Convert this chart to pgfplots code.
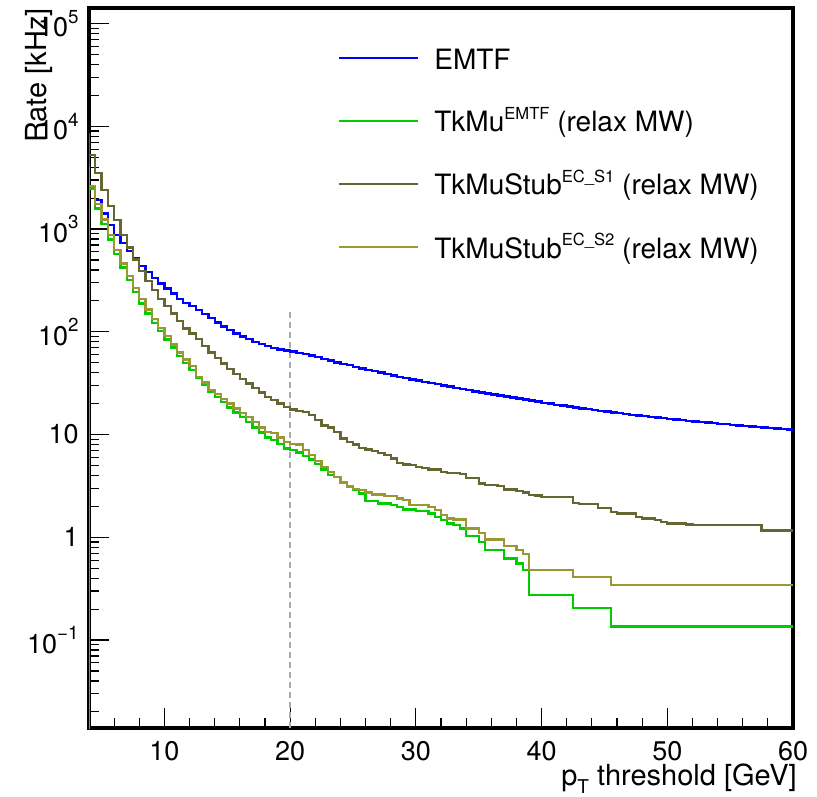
\documentclass[border=0pt]{standalone}
\usepackage{fontspec}
\setmainfont{TeX Gyre Heros}
\usepackage{pgfplots}
\usepackage{pgfplotstable}
\pgfplotsset{compat=1.18}
\definecolor{cblue}{RGB}{0,0,255}
\definecolor{cgreen}{RGB}{0,204,0}
\definecolor{colive}{RGB}{102,102,51}
\definecolor{colivetwo}{RGB}{153,153,51}
\definecolor{cdash}{RGB}{170,170,170}
\newcommand{\ysup}[1]{\raisebox{6.8pt}{\fontsize{9.4pt}{10pt}\selectfont #1}}
\newcommand{\lsup}[1]{\raisebox{6.2pt}{\fontsize{8.3pt}{9pt}\selectfont #1}}

\pgfplotstableread{
x emtf tkmu sa sb
4 0.01 0.01 0.01 0.01
4 2490 2490 8550 4130
4.0 2490 2490 5250 2620
4.5 1916 1590 3530 1750
5.0 1422 1120 2400 1242
5.5 1094 795 1680 875
6.0 874 571 1225 625
6.5 735 424 875 464
7.0 615 318 664 349
7.5 518 245 507 268
8.0 439 189 393 208
8.5 384 151 314 165
9.0 336 122 255 134
9.5 296 102 208 109
10.0 265 84.4 179 90.8
10.5 237 70.5 151 75.3
11.0 208 58.0 128 63.0
11.5 190 49.5 108 53.8
12.0 178 42.4 96.4 46.7
12.5 163 35.6 84.9 36.5
13.0 149 30.8 72.6 32.2
13.5 136 26.1 63.0 27.0
14.0 123 23.3 55.8 24.7
14.5 112.4 20.8 49.2 22.1
15.0 103.9 18.4 43.3 20.1
15.5 96.5 16.4 38.7 17.9
16.0 90.2 14.9 34.6 16.3
16.5 84.9 13.3 31.4 14.9
17.0 79.9 11.7 28.5 13.3
17.5 75.9 10.5 25.7 11.7
18.0 72.6 9.37 23.3 10.6
18.5 69.7 8.82 21.6 10.3
19.0 67.4 8.07 20.1 9.37
19.5 65.6 7.33 18.6 8.49
20.0 64.2 7.05 17.5 8.07
20.5 62.4 6.70 17.0 7.98
21.0 60.7 6.17 16.5 7.05
21.5 58.6 5.73 15.5 6.30
22.0 56.7 5.15 13.8 5.51
22.5 54.5 4.57 12.2 4.85
23.0 52.4 4.03 11.7 4.34
23.5 50.5 3.88 10.6 3.88
24.0 48.8 3.46 9.16 3.42
24.5 47.4 3.15 8.49 3.11
25.0 45.6 2.88 8.01 2.97
25.5 44.1 2.67 7.42 2.88
26.0 42.7 2.26 7.16 2.73
26.5 41.4 2.26 6.89 2.61
27.0 40.1 2.13 6.64 2.61
27.5 38.7 2.13 6.30 2.51
28.0 37.5 2.06 5.85 2.51
28.5 36.4 1.98 5.30 2.39
29.0 35.4 1.87 5.11 2.30
29.5 34.5 1.87 5.03 2.05
30.0 33.6 1.81 4.85 2.05
30.5 32.7 1.80 4.74 2.05
31.0 31.9 1.71 4.57 1.98
31.5 31.0 1.58 4.57 1.84
32.0 30.1 1.47 4.34 1.64
32.5 29.3 1.36 4.24 1.52
33.0 28.5 1.31 4.24 1.49
33.5 27.8 1.22 4.12 1.49
34.0 27.1 1.03 3.79 1.22
34.5 26.3 1.03 3.79 1.22
35.0 25.7 0.902 3.34 1.10
35.5 25.0 0.748 3.22 0.953
36.0 24.5 0.748 3.22 0.953
36.5 23.9 0.748 3.15 0.953
37.0 23.4 0.622 2.92 0.819
37.5 22.9 0.622 2.92 0.819
38.0 22.4 0.556 2.81 0.748
38.5 21.9 0.478 2.72 0.684
39.0 21.4 0.273 2.57 0.478
39.5 20.9 0.273 2.55 0.478
40.0 20.4 0.273 2.47 0.478
40.5 20.0 0.273 2.47 0.478
41.0 19.5 0.273 2.47 0.478
41.5 19.1 0.273 2.47 0.478
42.0 18.7 0.273 2.47 0.478
42.5 18.4 0.2055 2.16 0.411
43.0 18.0 0.2055 2.10 0.411
43.5 17.7 0.2055 2.10 0.411
44.0 17.4 0.2055 2.10 0.411
44.5 17.0 0.2055 1.93 0.411
45.0 16.7 0.2055 1.93 0.411
45.5 16.4 0.136 1.77 0.342
46.0 16.2 0.136 1.71 0.342
46.5 15.9 0.136 1.71 0.342
47.0 15.6 0.136 1.71 0.342
47.5 15.4 0.136 1.58 0.342
48.0 15.1 0.136 1.52 0.342
48.5 14.9 0.136 1.52 0.342
49.0 14.6 0.136 1.47 0.342
49.5 14.4 0.136 1.41 0.342
50.0 14.2 0.136 1.36 0.342
50.5 14.0 0.136 1.36 0.342
51.0 13.8 0.136 1.36 0.342
51.5 13.6 0.136 1.33 0.342
52.0 13.4 0.136 1.31 0.342
52.5 13.3 0.136 1.31 0.342
53.0 13.1 0.136 1.31 0.342
53.5 12.9 0.136 1.31 0.342
54.0 12.7 0.136 1.31 0.342
54.5 12.6 0.136 1.31 0.342
55.0 12.4 0.136 1.31 0.342
55.5 12.3 0.136 1.31 0.342
56.0 12.1 0.136 1.31 0.342
56.5 12.0 0.136 1.31 0.342
57.0 11.9 0.136 1.31 0.342
57.5 11.7 0.136 1.17 0.342
58.0 11.6 0.136 1.17 0.342
58.5 11.5 0.136 1.17 0.342
59.0 11.3 0.136 1.17 0.342
59.5 11.2 0.136 1.17 0.342
60 11.2 0.136 1.17 0.342
}\rates

\begin{document}
\begin{tikzpicture}
\path (-44.5pt,-34pt) rectangle (364pt,364pt);
\begin{axis}[
  set layers,
  at={(0,0)}, anchor=south west,
  scale only axis, width=352pt, height=360pt,
  ymode=log, xmin=4, xmax=60, ymin=0.01393, ymax=141900,
  axis line style={line width=1.9pt},
  tick pos=left, tick align=inside,
  major tick length=10pt, minor tick length=4.8pt,
  every tick/.style={black, line width=0.6pt},
  xtick={10,20,30,40,50,60}, xticklabels={10,20,30,40,50,60},
  minor xtick={6,8,12,14,16,18,22,24,26,28,32,34,36,38,42,44,46,48,52,54,56,58},
  ytick={0.1,1,10,100,1000,10000,100000},
  yticklabels={10\ysup{−1},1,10,10\ysup{2},10\ysup{3},10\ysup{4},10\ysup{5}},
  minor ytick={0.02,0.03,0.04,0.05,0.06,0.07,0.08,0.09,0.2,0.3,0.4,0.5,0.6,0.7,0.8,0.9,2,3,4,5,6,7,8,9,20,30,40,50,60,70,80,90,200,300,400,500,600,700,800,900,2000,3000,4000,5000,6000,7000,8000,9000,20000,30000,40000,50000,60000,70000,80000,90000},
  tick label style={font=\fontsize{13.5pt}{16pt}\selectfont, inner sep=0pt},
  yticklabel style={xshift=-5pt},
  xticklabel style={yshift=-6.3pt},
  xlabel={p\raisebox{-0.25em}{\fontsize{9.5pt}{10pt}\selectfont T} threshold [GeV]},
  ylabel={Rate [kHz]},
  label style={font=\fontsize{14.5pt}{17pt}\selectfont, inner sep=0pt},
  xlabel style={at={(axis description cs:1.0057,-0.0805)}, anchor=base east},
  ylabel style={at={(axis description cs:-0.0597,1)}, anchor=base east},
]
\addplot[cdash, line width=0.8pt, dash pattern=on 3pt off 2pt] coordinates {(20,0.01393) (20,163)};
\addplot[const plot mark left, cblue, line width=1.2pt] table[x=x, y=emtf] {\rates};
\addplot[const plot mark left, cgreen, line width=1.2pt] table[x=x, y=tkmu] {\rates};
\addplot[const plot mark left, colive, line width=1.2pt] table[x=x, y=sa] {\rates};
\addplot[const plot mark left, colivetwo, line width=1.2pt] table[x=x, y=sb] {\rates};

\draw[cblue, line width=1.1pt] (axis description cs:0.355,0.930) -- (axis description cs:0.467,0.930);
\draw[cgreen, line width=1.1pt] (axis description cs:0.355,0.8435) -- (axis description cs:0.467,0.8435);
\draw[colive, line width=1.1pt] (axis description cs:0.355,0.7556) -- (axis description cs:0.467,0.7556);
\draw[colivetwo, line width=1.1pt] (axis description cs:0.355,0.6676) -- (axis description cs:0.467,0.6676);
\node[anchor=base west, inner sep=0pt, yshift=-5.8pt, font=\fontsize{14pt}{16pt}\selectfont] at (axis description cs:0.490,0.930) {EMTF};
\node[anchor=base west, inner sep=0pt, yshift=-5.5pt, font=\fontsize{14pt}{16pt}\selectfont] at (axis description cs:0.490,0.8435) {TkMu\lsup{EMTF} (relax MW)};
\node[anchor=base west, inner sep=0pt, yshift=-5.5pt, font=\fontsize{14pt}{16pt}\selectfont] at (axis description cs:0.490,0.7556) {TkMuStub\lsup{EC\_S1} (relax MW)};
\node[anchor=base west, inner sep=0pt, yshift=-5.5pt, font=\fontsize{14pt}{16pt}\selectfont] at (axis description cs:0.490,0.6676) {TkMuStub\lsup{EC\_S2} (relax MW)};
\end{axis}
\end{tikzpicture}
\end{document}
